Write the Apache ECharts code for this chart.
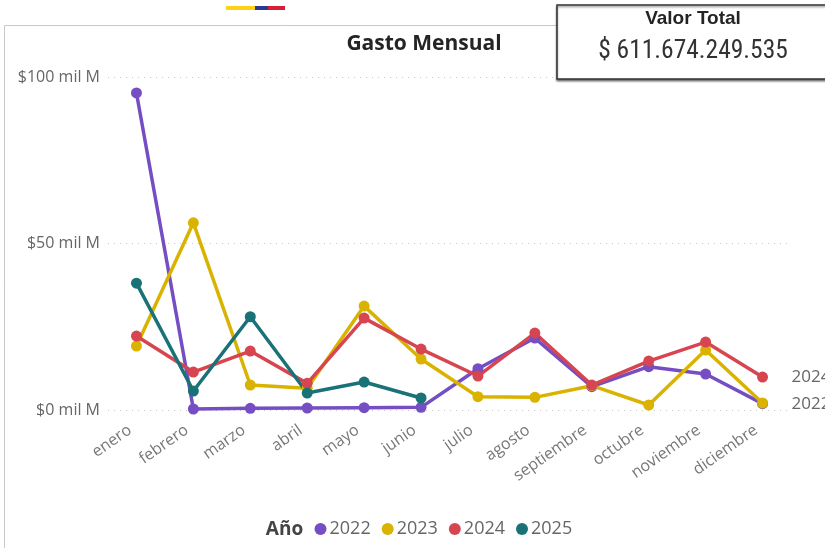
<!DOCTYPE html>
<html>
<head>
<meta charset="utf-8">
<title>Gasto Mensual</title>
<script src="https://cdn.jsdelivr.net/npm/echarts@6/dist/echarts.min.js"></script>
<style>
    html, body {
        margin: 0;
        padding: 0;
        background: #ffffff;
    }

    #chart_1 {
        width: 825px;
        height: 548px;
    }
</style>
</head>
<body>
<div id="chart_1"></div>
<script>
// meses
var meses = ['enero', 'febrero', 'marzo', 'abril', 'mayo', 'junio', 'julio', 'agosto', 'septiembre', 'octubre', 'noviembre', 'diciembre'];
// gasto por año, en miles de millones
var gasto2022 = [95.2, 0.3, 0.5, 0.6, 0.7, 0.8, 12.4, 21.6, 7.0, 13.0, 10.8, 1.9];
var gasto2023 = [19.2, 56.2, 7.5, 6.5, 31.2, 15.3, 4.0, 3.8, 7.3, 1.5, 18.0, 2.1];
var gasto2024 = [22.2, 11.4, 17.7, 8.0, 27.6, 18.3, 10.2, 23.1, 7.5, 14.7, 20.4, 9.9];
var gasto2025 = [38.1, 5.7, 28.0, 5.1, 8.4, 3.6];
var anios = ['2022', '2023', '2024', '2025'];
var colores = ['#744EC2', '#D9B300', '#D64550', '#197278'];
var ticksY = [0, 50, 100];
var valorTotal = '$ 611.674.249.535';

var fuente = '"Open Sans", "Noto Sans", sans-serif';
var fuenteAngosta = '"Roboto Condensed", "Liberation Sans Narrow", "Liberation Sans", sans-serif';

var myChart = echarts.init(document.getElementById('chart_1'));

function serie(nombre, datos, color, conEtiqueta) {
    return {
        name: nombre,
        type: 'line',
        data: datos,
        color: color,
        symbol: 'circle',
        symbolSize: 11,
        lineStyle: { width: 3.5, color: color },
        itemStyle: { color: color },
        emphasis: { disabled: true },
        endLabel: {
            show: conEtiqueta,
            formatter: '{a}',
            color: '#666666',
            fontFamily: fuente,
            fontSize: 17,
            distance: 29
        }
    };
}

var option = {
    animation: false,
    backgroundColor: '#ffffff',
    title: {
        text: 'Gasto Mensual',
        left: 419,
        top: 29,
        textAlign: 'center',
        textStyle: {
            fontFamily: fuente,
            fontSize: 21,
            fontWeight: 'bold',
            color: '#252423'
        }
    },
    legend: {
        data: anios,
        left: 314.5,
        top: 520,
        padding: 0,
        icon: 'circle',
        itemWidth: 12,
        itemHeight: 12,
        itemGap: 11,
        textStyle: {
            color: '#666666',
            fontFamily: fuente,
            fontSize: 18,
            padding: [0, 0, 0, -2]
        }
    },
    grid: {
        left: 108,
        right: 34,
        top: 77,
        bottom: 138,
        containLabel: false
    },
    xAxis: {
        type: 'category',
        data: meses,
        axisLine: { show: false },
        axisTick: { show: false },
        axisLabel: {
            rotate: 35,
            color: '#777777',
            fontFamily: fuente,
            fontSize: 16,
            margin: 14,
            padding: [0, 8, 0, 0],
            interval: 0
        }
    },
    yAxis: {
        type: 'value',
        min: ticksY[0],
        max: ticksY[ticksY.length - 1],
        interval: ticksY[1] - ticksY[0],
        axisLine: { show: false },
        axisTick: { show: false },
        axisLabel: {
            color: '#666666',
            fontFamily: fuente,
            fontSize: 16,
            margin: 8,
            formatter: function (v) {
                return '$' + v + ' mil M';
            }
        },
        splitLine: {
            show: true,
            lineStyle: {
                color: '#c8c8c8',
                width: 1,
                type: [1, 5]
            }
        }
    },
    series: [
        serie(anios[0], gasto2022, colores[0], true),
        serie(anios[1], gasto2023, colores[1], false),
        serie(anios[2], gasto2024, colores[2], true),
        serie(anios[3], gasto2025, colores[3], false)
    ],
    graphic: [
        // marco del visual
        {
            type: 'polyline',
            z: -1,
            shape: { points: [[4.5, 548], [4.5, 25.5], [560, 25.5]] },
            style: { stroke: '#c8c8c8', lineWidth: 1, fill: null }
        },
        // barra de colores
        { type: 'rect', shape: { x: 226, y: 6, width: 29, height: 4 }, style: { fill: '#FCD116' } },
        { type: 'rect', shape: { x: 255, y: 6, width: 13, height: 4 }, style: { fill: '#2B3990' } },
        { type: 'rect', shape: { x: 268, y: 6, width: 17, height: 4 }, style: { fill: '#D6203A' } },
        // tarjeta Valor Total
        {
            type: 'rect',
            z: 10,
            shape: { x: 557, y: 5, width: 280, height: 74 },
            style: {
                fill: '#ffffff',
                stroke: '#333333',
                lineWidth: 1.5,
                shadowColor: 'rgba(0,0,0,0.45)',
                shadowBlur: 2,
                shadowOffsetY: 1.5
            }
        },
        {
            type: 'text',
            z: 11,
            style: {
                text: 'Valor Total',
                x: 693,
                y: 18.5,
                align: 'center',
                verticalAlign: 'middle',
                fill: '#252423',
                font: 'bold 19px "Liberation Sans", sans-serif'
            }
        },
        {
            type: 'text',
            z: 11,
            style: {
                text: valorTotal,
                x: 693,
                y: 52,
                align: 'center',
                verticalAlign: 'middle',
                fill: '#333333',
                font: '25.5px ' + fuenteAngosta
            }
        },
        // titulo de la leyenda
        {
            type: 'text',
            style: {
                text: 'Año',
                x: 284.5,
                y: 530,
                align: 'center',
                verticalAlign: 'middle',
                fill: '#444444',
                font: 'bold 19px ' + fuente
            }
        }
    ]
};

myChart.setOption(option);
window.addEventListener('resize', function () {
    myChart.resize();
});
</script>
</body>
</html>
